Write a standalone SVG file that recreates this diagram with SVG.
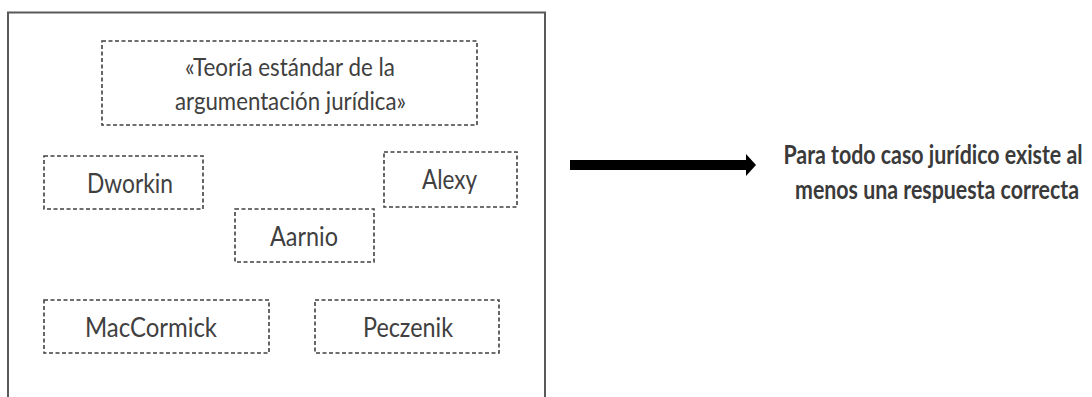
<svg xmlns="http://www.w3.org/2000/svg" width="1092" height="397" viewBox="0 0 1092 397">
<style>
.frame{fill:#fff;stroke:#595959;stroke-width:2}
.box{fill:none;stroke:#404040;stroke-width:1.6;stroke-dasharray:4 2.5}
.lbl{font-family:Lato,"Open Sans","Liberation Sans",sans-serif;font-size:27px;fill:#404040;text-anchor:middle}
.top{font-size:25px}
.res{font-family:Lato,"Open Sans","Liberation Sans",sans-serif;font-size:26px;font-weight:bold;fill:#3a3a3a;text-anchor:middle}
</style>
<rect width="1092" height="397" fill="#fff"/>
<rect class="frame" x="8" y="12.5" width="537" height="400"/>
<g id="teoria">
<rect class="box" x="102" y="41" width="375" height="84"/>
<text class="lbl top" x="290" y="76" textLength="210" lengthAdjust="spacingAndGlyphs">«Teoría estándar de la</text>
<text class="lbl top" x="290.5" y="110" textLength="231" lengthAdjust="spacingAndGlyphs">argumentación jurídica»</text>
</g>
<g id="dworkin">
<rect class="box" x="44" y="156" width="159" height="53"/>
<text class="lbl" x="130" y="192.5" textLength="86" lengthAdjust="spacingAndGlyphs">Dworkin</text>
</g>
<g id="alexy">
<rect class="box" x="384" y="152" width="133" height="55"/>
<text class="lbl" x="449.5" y="189" textLength="55" lengthAdjust="spacingAndGlyphs">Alexy</text>
</g>
<g id="aarnio">
<rect class="box" x="235" y="209" width="139" height="53"/>
<text class="lbl" x="304" y="246" textLength="68" lengthAdjust="spacingAndGlyphs">Aarnio</text>
</g>
<g id="maccormick">
<rect class="box" x="44" y="300" width="225" height="53"/>
<text class="lbl" x="151" y="337" textLength="132" lengthAdjust="spacingAndGlyphs">MacCormick</text>
</g>
<g id="peczenik">
<rect class="box" x="315" y="300" width="184" height="53"/>
<text class="lbl" x="408" y="337" textLength="90" lengthAdjust="spacingAndGlyphs">Peczenik</text>
</g>
<g id="connectors">
<path d="M570,160 H746 V154 L756,165 L746,176 V170 H570 Z" fill="#000"/>
</g>
<g id="resultado" transform="translate(933,0) scale(0.8,1)">
<text class="res" x="0" y="164" textLength="374" lengthAdjust="spacingAndGlyphs">Para todo caso jurídico existe al</text>
<text class="res" x="5" y="199" textLength="355" lengthAdjust="spacingAndGlyphs">menos una respuesta correcta</text>
</g>
</svg>
